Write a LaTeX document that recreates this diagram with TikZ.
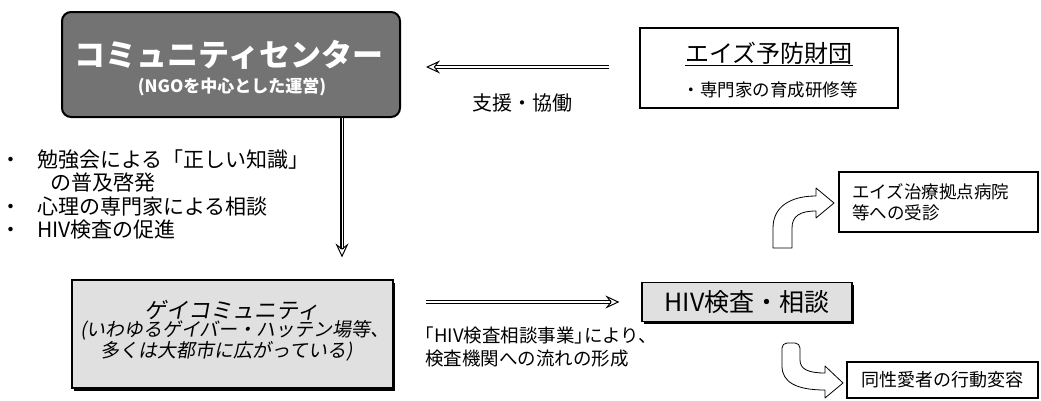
\documentclass[tikz,border=0pt]{standalone}
\usepackage{fontspec}
\setmainfont{Noto Sans CJK JP}
\newfontfamily\jpslant[FakeSlant=0.18]{Noto Sans CJK JP}
\usetikzlibrary{arrows.meta,shadows}
\newcommand{\fsz}[1]{\fontsize{#1}{#1}\selectfont}
\tikzset{
  txt/.style={inner sep=0pt, align=left},
  ccbox/.style={draw=black, line width=2pt, rounded corners=9pt, fill=black!55},
  plainbox/.style={draw=black, line width=1.2pt, fill=white},
  shadebox/.style={draw=black, line width=1.2pt, fill=black!12,
     drop shadow={shadow xshift=2pt, shadow yshift=-2.5pt, fill=black, opacity=1}},
  dblarrow/.style={double=white, double distance=1.2pt, line width=1pt,
     -{Stealth[open, length=14pt, width=13pt, inset=5pt, line width=1pt]}},
  blockarrow/.style={draw=black, line width=0.8pt, fill=white, line join=round},
}
\begin{document}
\begin{tikzpicture}[x=1pt,y=-1pt]
\useasboundingbox (0,0) rectangle (1041,400);

% community centre
\node[ccbox, minimum width=338pt, minimum height=105pt] (cc) at (231,64.5) {};
\node[txt, white, font=\fsz{31}\bfseries] (cct) at (229,55) {コミュニティセンター};
\node[txt, white, font=\fsz{17}\bfseries] (ccs) at (232,87) {(NGOを中心とした運営)};

% foundation
\node[plainbox, minimum width=258pt, minimum height=80pt] (afd) at (769,68) {};
\node[txt, font=\fsz{24}] (aft) at (769,54) {\underline{エイズ予防財団}};
\node[txt, font=\fsz{17.5}] (afs) at (770,90) {・専門家の育成研修等};

% top arrow
\coordinate (ty) at (0,67);
\draw[dblarrow, shorten <=30pt, shorten >=25pt] (afd.west |- ty) -- (cc.east |- ty);
\node[txt, font=\fsz{20}] (sup) at (522,103) {支援・協働};

% bullets
\node[txt, font=\fsz{21}, anchor=west] (b1) at (0,160) {\makebox[37pt][l]{・}勉強会による「正しい知識」};
\node[txt, font=\fsz{21}, anchor=west] (b1b) at (50,183) {の普及啓発};
\node[txt, font=\fsz{21}, anchor=west] (b2) at (0,207) {\makebox[37pt][l]{・}心理の専門家による相談};
\node[txt, font=\fsz{21}, anchor=west] (b3) at (0,230) {\makebox[37pt][l]{・}HIV検査の促進};

% gay community
\node[shadebox, minimum width=321pt, minimum height=108pt] (gay) at (232.5,334) {};
\node[txt, font=\jpslant\fsz{22}] (gayt) at (232,310) {ゲイコミュニティ};
\node[txt, font=\jpslant\fsz{19}] (gay2) at (235,330) {(いわゆるゲイバー・ハッテン場等、};
\node[txt, font=\jpslant\fsz{19}] (gay3) at (227,351) {多くは大都市に広がっている)};

% vertical arrow
\coordinate (vx) at (342,0);
\draw[dblarrow, double distance=1pt, line width=1.2pt, shorten >=22pt] (cc.south -| vx) -- (gay.north -| vx);

% HIV box
\node[shadebox, minimum width=210pt, minimum height=39pt, font=\fsz{25}] (hiv) at (747,302) {HIV検査・相談};

% middle arrow
\draw[dblarrow, shorten <=32pt, shorten >=22pt] (gay.east |- hiv.west) -- (hiv.west);
\node[txt, font=\fsz{18.5}\addfontfeature{RawFeature=+halt}, anchor=north west] (lab1) at (425,327) {「HIV検査相談事業」により、};
\node[txt, font=\fsz{18.5}, anchor=north west] (lab2) at (425,350) {検査機関への流れの形成};

% treatment box
\node[plainbox, line width=1.5pt, minimum width=199pt, minimum height=60pt] (trt) at (938.5,202) {};
\node[txt, font=\fsz{17.5}, anchor=west] (trt1) at (852,192) {エイズ治療拠点病院};
\node[txt, font=\fsz{17.5}, anchor=west] (trt2) at (852,213) {等への受診};

% behaviour box
\node[plainbox, line width=1.5pt, minimum width=191pt, minimum height=36pt, font=\fsz{18}] (beh) at (942.5,380) {同性愛者の行動変容};

% curved block arrows
\draw[blockarrow] (773,248) -- (773,228) .. controls (773,207) and (790,196) .. (816,196)
  -- (816,188) -- (834,203) -- (816,218) -- (816,211)
  .. controls (800,211) and (792,216) .. (792,228) -- (792,248) -- cycle;
\draw[blockarrow] (800,360) [rounded corners=5pt] -- (800,343) -- (782,343) [sharp corners] -- (782,366)
  .. controls (782,382) and (796,390) .. (825,390) -- (825,398) -- (843,383) -- (825,366) -- (825,373)
  .. controls (808,373) and (800,369) .. (800,360) -- cycle;
\end{tikzpicture}
\end{document}
